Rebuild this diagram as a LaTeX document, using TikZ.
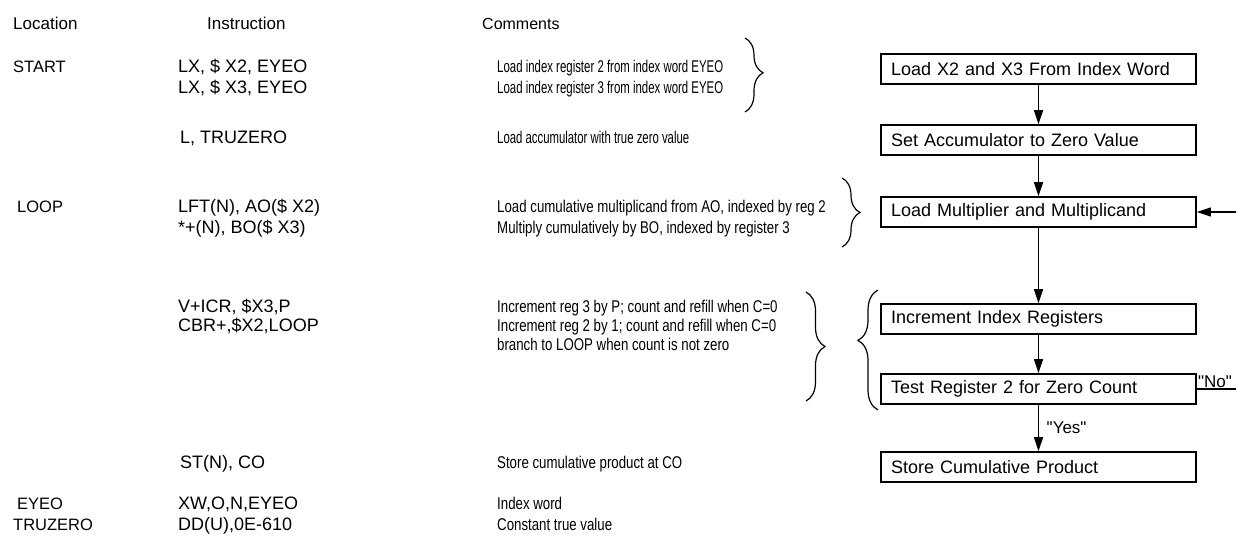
\documentclass[tikz,border=0pt]{standalone}
\usepackage{fontspec}
\setmainfont{Liberation Sans}
\newfontfamily\cmtfont[FakeStretch=0.78]{Liberation Sans}
\newfontfamily\lblfont[Ligatures=TeXOff]{Liberation Sans}
\usetikzlibrary{arrows.meta,decorations.pathreplacing,calc}
\newcommand\fitw[2]{\resizebox{#1}{\height}{#2}}
\begin{document}
\begin{tikzpicture}[x=1pt,y=-1pt,
  hdr/.style={anchor=base west, inner sep=0pt, font=\fontsize{17}{19}\selectfont},
  loc/.style={anchor=base west, inner sep=0pt, font=\fontsize{16.5}{19}\selectfont},
  ins/.style={anchor=base west, inner sep=0pt, font=\fontsize{18}{21}\selectfont},
  cmt/.style={anchor=base west, inner sep=0pt, font=\cmtfont\fontsize{17}{19}\selectfont},
  fbox/.style={draw, line width=1.6pt, minimum width=315pt, minimum height=30pt,
    text width=295pt, inner xsep=10pt, inner ysep=3pt, align=left,
    font=\fontsize{18}{22}\selectfont},
  lbl/.style={inner sep=1pt, font=\lblfont\fontsize{17}{20}\selectfont},
  arr/.style={line width=1.3pt, -{Triangle[length=14pt,width=9pt]}},
  brc/.style={decorate, line width=1.2pt},
]
\useasboundingbox (0,0) rectangle (1236,538);
\clip (0,0) rectangle (1236,538);

% headers
\node[hdr] (h1) at (13,29) {Location};
\node[hdr] (h2) at (207,29) {Instruction};
\node[hdr, font=\fontsize{16}{19}\selectfont] (h3) at (482,29) {Comments};

% location column
\node[loc] (l1) at (13,72) {START};
\node[loc] (l2) at (17,212) {LOOP};
\node[loc] (l3) at (17,509) {EYEO};
\node[loc] (l4) at (13,530) {TRUZERO};

% instruction column
\node[ins] (i1) at (178,72) {LX, \$ X2, EYEO};
\node[ins] (i2) at (178,93) {LX, \$ X3, EYEO};
\node[ins] (i3) at (180,143) {L, TRUZERO};
\node[ins] (i4) at (178,212) {LFT(N), AO(\$ X2)};
\node[ins] (i5) at (178,233) {*+(N), BO(\$ X3)};
\node[ins] (i6) at (178,312) {V+ICR, \$X3,P};
\node[ins] (i7) at (178,331) {CBR+,\$X2,LOOP};
\node[ins] (i8) at (180,468) {ST(N), CO};
\node[ins] (i9) at (178,509) {XW,O,N,EYEO};
\node[ins] (i10) at (178,530) {DD(U),0E-610};

% comments column
\node[cmt] (c1) at (497,72) {\fitw{226pt}{Load index register 2 from index word EYEO}};
\node[cmt] (c2) at (497,93) {\fitw{226pt}{Load index register 3 from index word EYEO}};
\node[cmt] (c3) at (497,143) {\fitw{192pt}{Load accumulator with true zero value}};
\node[cmt] (c4) at (497,212) {Load cumulative multiplicand from AO, indexed by reg 2};
\node[cmt] (c5) at (497,233) {Multiply cumulatively by BO, indexed by register 3};
\node[cmt] (c6) at (497,312) {Increment reg 3 by P; count and refill when C=0};
\node[cmt] (c7) at (497,331) {Increment reg 2 by 1; count and refill when C=0};
\node[cmt] (c8) at (497,350) {branch to LOOP when count is not zero};
\node[cmt] (c9) at (497,468) {Store cumulative product at CO};
\node[cmt] (c10) at (497,509) {Index word};
\node[cmt] (c11) at (497,530) {Constant true value};

% braces
\draw[brc, decoration={brace, amplitude=18pt, aspect=0.47}] (745,38) -- (745,112);
\draw[brc, decoration={brace, amplitude=18pt, aspect=0.5}] (842,178) -- (842,247);
\draw[brc, decoration={brace, amplitude=19pt, aspect=0.5}] (806,292) -- (806,401);
\draw[brc, decoration={brace, amplitude=20pt, aspect=0.58}] (878,410) -- (878,290);

% flowchart
\node[fbox] (b1) at (1038.5,69) {Load X2 and X3 From Index Word};
\node[fbox] (b2) at (1038.5,140) {Set Accumulator to Zero Value};
\node[fbox] (b3) at (1038.5,212) {Load Multiplier and Multiplicand};
\node[fbox] (b4) at (1038.5,319) {Increment Index Registers};
\node[fbox] (b5) at (1038.5,389) {Test Register 2 for Zero Count};
\node[fbox] (b6) at (1038.5,467) {Store Cumulative Product};

\draw[arr] (b1) -- (b2);
\draw[arr] (b2) -- (b3);
\draw[arr] (b3) -- (b4);
\draw[arr] (b4) -- (b5);
\draw[arr] (b5) -- (b6);

\coordinate (loopx) at (1250,0);
\draw[arr] (b5.east) -- (b5.east -| loopx) |- (b3.east);

\node[lbl, anchor=south west] (no) at (b5.east) {"No"};
\node[lbl, anchor=west, xshift=7pt] (yes) at ($(b5.south)!0.5!(b6.north)$) {"Yes"};
\end{tikzpicture}
\end{document}
